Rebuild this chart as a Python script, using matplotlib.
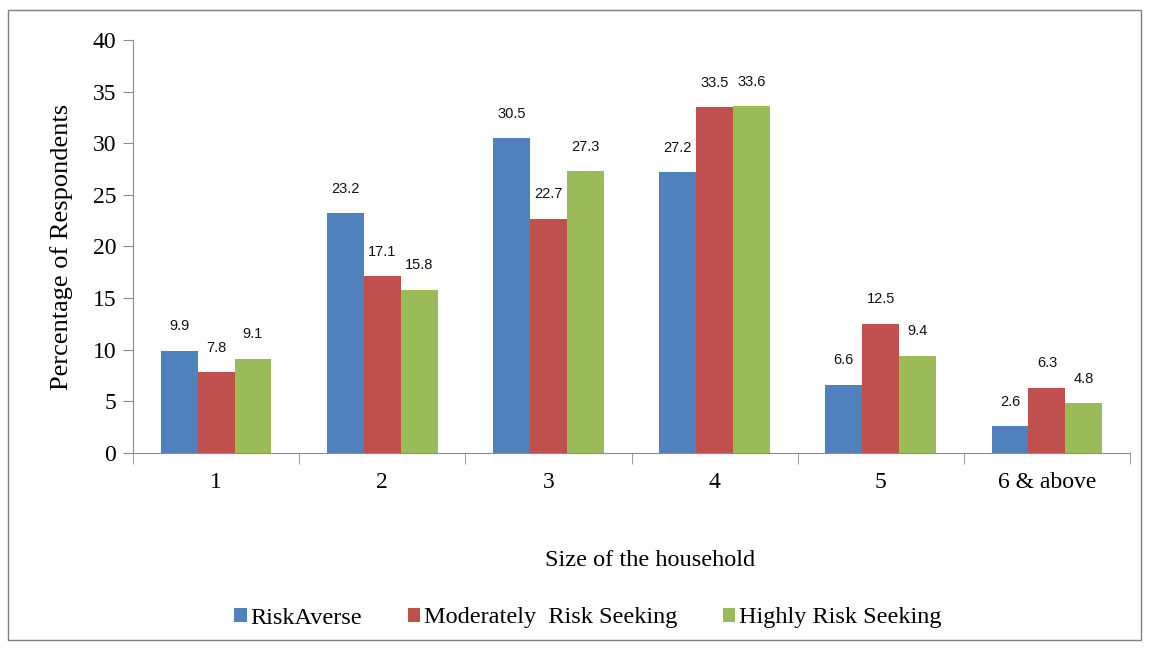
import numpy as np
import matplotlib.pyplot as plt
from matplotlib.patches import Rectangle

categories = ['1', '2', '3', '4', '5', '6 & above']
risk_averse = [9.9, 23.2, 30.5, 27.2, 6.6, 2.6]
moderate = [7.8, 17.1, 22.7, 33.5, 12.5, 6.3]
highly = [9.1, 15.8, 27.3, 33.6, 9.4, 4.8]
series_names = ['RiskAverse', 'Moderately  Risk Seeking', 'Highly Risk Seeking']
colors = ['#4F81BD', '#C0504D', '#9BBB59']

serif = ['Liberation Serif', 'DejaVu Serif']
narrow = ['Liberation Sans Narrow', 'Liberation Sans', 'DejaVu Sans']

fig = plt.figure(figsize=(11.49, 6.5), dpi=100)
ax = fig.add_axes([133/1149, 1 - 453/650, (1130-133)/1149, (453-40)/650])

# outer frame
fig.patches.append(Rectangle((8/1149, 1 - 640/650), 1133/1149, 630/650,
                             transform=fig.transFigure, fill=False,
                             edgecolor='#7f7f7f', linewidth=1.0))

x = np.arange(len(categories))
w = 0.222
for i, (vals, name) in enumerate(zip([risk_averse, moderate, highly], series_names)):
    pos = x + (i - 1) * w
    ax.bar(pos, vals, width=w, color=colors[i], label=name)
    for p, v in zip(pos, vals):
        ax.text(p, v + 1.7, f'{v}', ha='center', va='bottom', fontsize=10.5,
                family=narrow, color='#111111')

ax.set_xlim(-0.5, len(categories) - 0.5)
ax.set_ylim(0, 40)
ax.set_yticks(range(0, 41, 5))
ax.set_yticklabels([str(v) for v in range(0, 41, 5)], family=serif, fontsize=17)
ax.set_xticks(x)
ax.set_xticklabels(categories, family=serif, fontsize=17)
ax.set_xticks(np.arange(-0.5, len(categories)), minor=True)
ax.tick_params(axis='x', which='major', length=0, pad=14)
ax.tick_params(axis='x', which='minor', length=8, color='#8c8c8c', direction='out')
ax.tick_params(axis='y', length=7, color='#8c8c8c', direction='out', pad=5)

for s in ['top', 'right']:
    ax.spines[s].set_visible(False)
for s in ['left', 'bottom']:
    ax.spines[s].set_color('#8c8c8c')

ax.set_ylabel('Percentage of Respondents', family=serif, fontsize=19, labelpad=14)
fig.text(650/1149, 1 - 560/650, 'Size of the household', family=serif, fontsize=17.5,
         ha='center', va='center')

leg = fig.legend(loc='center', bbox_to_anchor=(588/1149, 1 - 618/650), ncol=3,
                 frameon=False, prop={'family': serif, 'size': 17.5},
                 handlelength=0.5, handleheight=0.55, handletextpad=0.15,
                 columnspacing=1.9)

fig.savefig('out.png', dpi=100)
